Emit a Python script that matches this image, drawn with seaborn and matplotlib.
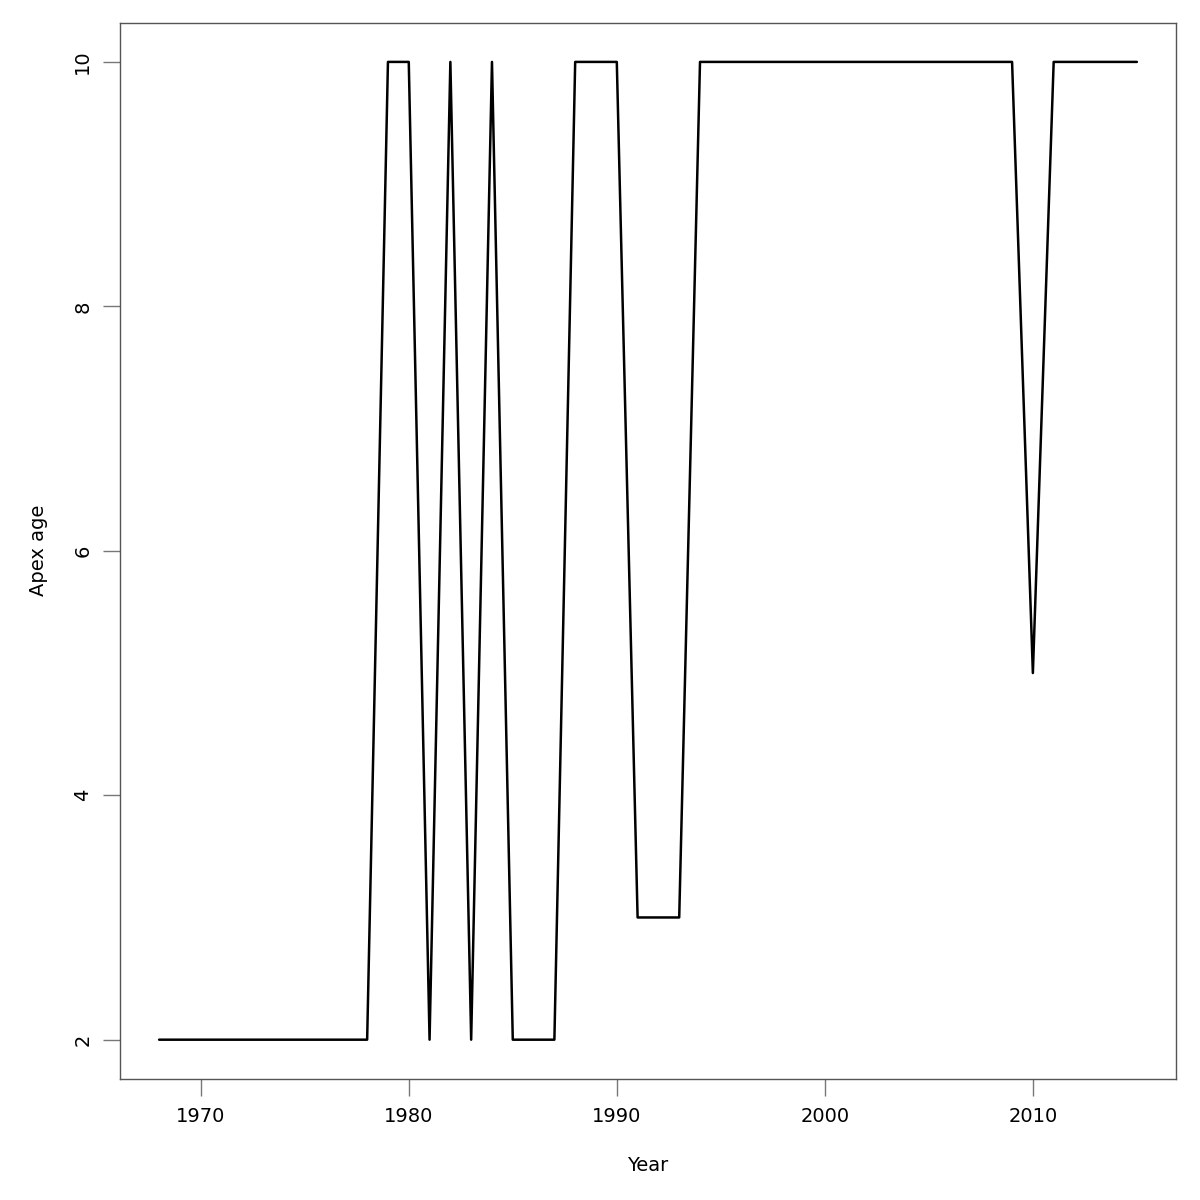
import numpy as np
import pandas as pd
import seaborn as sns
from matplotlib import pyplot as plt

years = list(range(1968, 2016))
apex_age = ([2] * 11                  # 1968-1978
            + [10, 10, 2, 10, 2, 10]  # 1979-1984
            + [2, 2, 2]               # 1985-1987
            + [10, 10, 10]            # 1988-1990
            + [3, 3, 3]               # 1991-1993
            + [10] * 16               # 1994-2009
            + [5]                     # 2010
            + [10] * 5)               # 2011-2015

x_ticks = [1970, 1980, 1990, 2000, 2010]
y_ticks = [2, 4, 6, 8, 10]

df = pd.DataFrame({"Year": years, "Apex age": apex_age})

sns.set_style("white")
plt.rcParams['font.family'] = ['DejaVu Sans']
plt.rcParams['text.color'] = 'black'
plt.rcParams['axes.labelcolor'] = 'black'

fig = plt.figure(figsize = (12, 12), dpi = 100)
ax = fig.add_axes([0.1, 0.101, 0.88, 0.88])

sns.lineplot(x = "Year", y = "Apex age", data = df, color = "black",
             linewidth = 1.8, ax = ax)

ax.set_xlim(1966.12, 2016.88)
ax.set_ylim(1.68, 10.32)
ax.set_xticks(x_ticks)
ax.set_yticks(y_ticks)
ax.set_yticklabels([str(v) for v in y_ticks], rotation = 90, va = "center")

for s in ax.spines.values():
    s.set_color("#555555")
    s.set_linewidth(1)

ax.tick_params(axis = "both", direction = "out", length = 12, width = 1,
               color = "#777777", labelsize = 14, pad = 8, bottom = True, left = True,
               labelcolor = "black")
ax.set_xlabel("Year", fontsize = 14, labelpad = 22, color = "black")
ax.set_ylabel("Apex age", fontsize = 14, labelpad = 18, color = "black")

plt.savefig("out.png")
